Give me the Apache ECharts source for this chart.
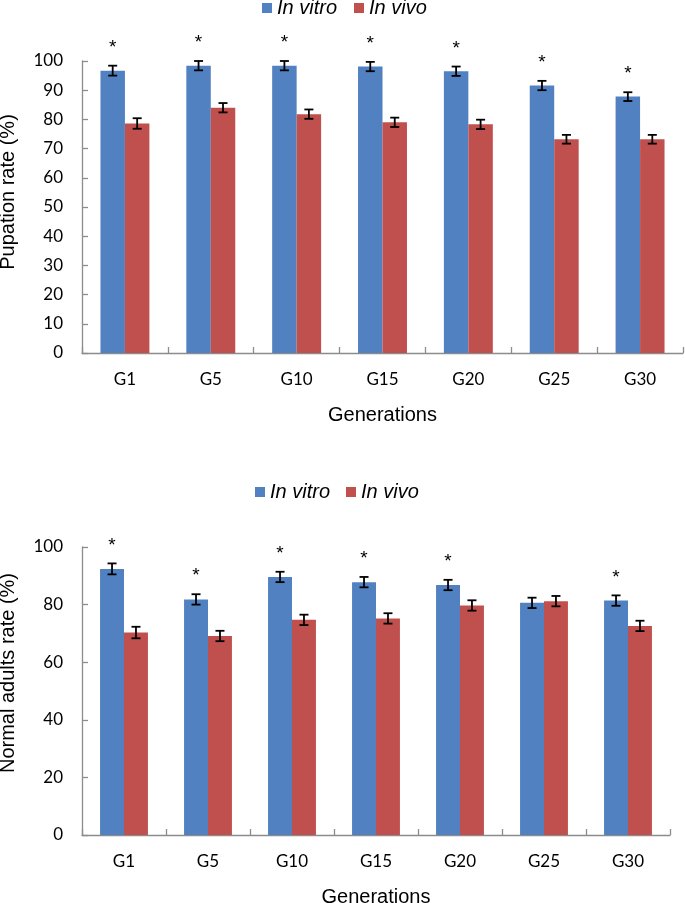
<!DOCTYPE html>
<html>
<head>
<meta charset="utf-8">
<script src="https://cdn.jsdelivr.net/npm/echarts@6/dist/echarts.min.js"></script>
<style>
html,body{margin:0;padding:0;background:#fff;}
#c{width:685px;height:903px;}
</style>
</head>
<body>
<div id="c"></div>
<script>
// ---- data ----
const categories = ['G1', 'G5', 'G10', 'G15', 'G20', 'G25', 'G30'];
const seriesNames = ['In vitro', 'In vivo'];

// Top chart: Pupation rate (%)
const pupVitro = [96.7, 98.4, 98.4, 98.1, 96.5, 91.6, 87.8];
const pupVivo = [78.6, 84.0, 81.8, 79.0, 78.3, 73.2, 73.2];
const pupVitroErr = [1.7, 1.6, 1.6, 1.6, 1.6, 1.6, 1.5];
const pupVivoErr = [1.8, 1.6, 1.6, 1.6, 1.6, 1.5, 1.5];
const pupSig = [1, 1, 1, 1, 1, 1, 1];
const pupTicks = [0, 10, 20, 30, 40, 50, 60, 70, 80, 90, 100];

// Bottom chart: Normal adults rate (%)
const adVitro = [92.4, 81.8, 89.6, 87.8, 86.8, 80.6, 81.4];
const adVivo = [70.3, 69.1, 74.7, 75.2, 79.7, 81.2, 72.6];
const adVitroErr = [1.9, 1.8, 1.8, 1.8, 1.8, 1.8, 1.8];
const adVivoErr = [2.0, 1.8, 1.8, 1.8, 1.8, 1.8, 1.8];
const adSig = [1, 1, 1, 1, 1, 0, 1];
const adTicks = [0, 20, 40, 60, 80, 100];

// ---- styling ----
const BLUE = '#5181C1';
const RED = '#C0504D';
const AXIS = '#8C8C8C';
const SANS = '"Liberation Sans", Arial, sans-serif';
const TICKF = 'Lato, "Open Sans", sans-serif';
const BAR_RATIO = 0.285;

function errData(vals, errs, sig) {
  return vals.map((v, i) => [i, v, errs[i], sig ? sig[i] : 0]);
}

function errRender(side) {
  return function (params, api) {
    const idx = api.value(0), v = api.value(1), e = api.value(2), s = api.value(3);
    const c = api.coord([idx, v]);
    const bw = api.size([1, 0])[0] * BAR_RATIO;
    const x = c[0] + side * bw / 2;
    const yt = api.coord([idx, v + e])[1];
    const yb = api.coord([idx, v - e])[1];
    const cap = 4.5;
    const st = {stroke: '#000', lineWidth: 1.8};
    const children = [
      {type: 'line', shape: {x1: x, y1: yt, x2: x, y2: yb}, style: st},
      {type: 'line', shape: {x1: x - cap, y1: yt, x2: x + cap, y2: yt}, style: st},
      {type: 'line', shape: {x1: x - cap, y1: yb, x2: x + cap, y2: yb}, style: st}
    ];
    if (s) {
      children.push({
        type: 'text',
        style: {text: '*', x: x, y: yt - 18, align: 'center', verticalAlign: 'middle',
          font: '19px ' + SANS, fill: '#000'}
      });
    }
    return {type: 'group', children: children};
  };
}

function yAxisCfg(grid, ticks, name, nameGap, shift) {
  return {
    type: 'value', gridIndex: grid, min: ticks[0], max: ticks[ticks.length - 1],
    interval: ticks[1] - ticks[0],
    name: name, nameLocation: 'middle', nameGap: nameGap,
    nameTextStyle: {fontFamily: SANS, fontSize: 20, color: '#000', padding: [0, 0, 0, shift]},
    axisLine: {show: true, lineStyle: {color: AXIS, width: 1.3}},
    axisTick: {show: true, inside: true, length: 6, lineStyle: {color: AXIS, width: 1.3}},
    axisLabel: {fontFamily: TICKF, fontSize: 17, color: '#000', margin: 19},
    splitLine: {show: false}
  };
}

function xAxisCfg(grid) {
  return {
    type: 'category', gridIndex: grid, data: categories,
    name: 'Generations', nameLocation: 'middle', nameGap: 52,
    nameTextStyle: {fontFamily: SANS, fontSize: 20, color: '#000'},
    axisLine: {show: true, lineStyle: {color: AXIS, width: 1.3}},
    axisTick: {show: true, inside: true, length: 6, alignWithLabel: false, lineStyle: {color: AXIS, width: 1.3}},
    axisLabel: {fontFamily: TICKF, fontSize: 17, color: '#000', margin: 18}
  };
}

function barSeries(name, data, color, grid) {
  return {
    name: name, type: 'bar', xAxisIndex: grid, yAxisIndex: grid, data: data,
    barWidth: (BAR_RATIO * 100) + '%', barGap: '0%',
    itemStyle: {color: color}, silent: true, animation: false
  };
}

function errSeries(data, side, grid) {
  return {
    type: 'custom', xAxisIndex: grid, yAxisIndex: grid, data: data,
    renderItem: errRender(side), encode: {x: 0, y: 1}, z: 5, silent: true, animation: false
  };
}

const legendStyle = {fontFamily: SANS, fontSize: 20, fontStyle: 'italic', color: '#000'};

const option = {
  backgroundColor: '#fff',
  animation: false,
  legend: [
    {left: 262, top: -2, itemWidth: 10, itemHeight: 10, itemGap: 17, icon: 'rect',
      data: seriesNames, textStyle: legendStyle, padding: [0, 0, 0, 0]},
    {left: 255, top: 482, itemWidth: 10, itemHeight: 10, itemGap: 16, icon: 'rect',
      data: seriesNames, textStyle: legendStyle, padding: [0, 0, 0, 0]}
  ],
  grid: [
    {left: 82, right: 2, top: 61, height: 292, outerBoundsMode: 'none', containLabel: false},
    {left: 82, right: 15, top: 547, height: 288, outerBoundsMode: 'none', containLabel: false}
  ],
  xAxis: [xAxisCfg(0), xAxisCfg(1)],
  yAxis: [
    yAxisCfg(0, pupTicks, 'Pupation rate (%)', 64, 30),
    yAxisCfg(1, adTicks, 'Normal adults rate (%)', 64, 36)
  ],
  series: [
    barSeries(seriesNames[0], pupVitro, BLUE, 0),
    barSeries(seriesNames[1], pupVivo, RED, 0),
    errSeries(errData(pupVitro, pupVitroErr, pupSig), -1, 0),
    errSeries(errData(pupVivo, pupVivoErr, null), 1, 0),
    barSeries(seriesNames[0], adVitro, BLUE, 1),
    barSeries(seriesNames[1], adVivo, RED, 1),
    errSeries(errData(adVitro, adVitroErr, adSig), -1, 1),
    errSeries(errData(adVivo, adVivoErr, null), 1, 1)
  ]
};

const chart = echarts.init(document.getElementById('c'), null, {renderer: 'canvas'});
chart.setOption(option);
</script>
</body>
</html>
